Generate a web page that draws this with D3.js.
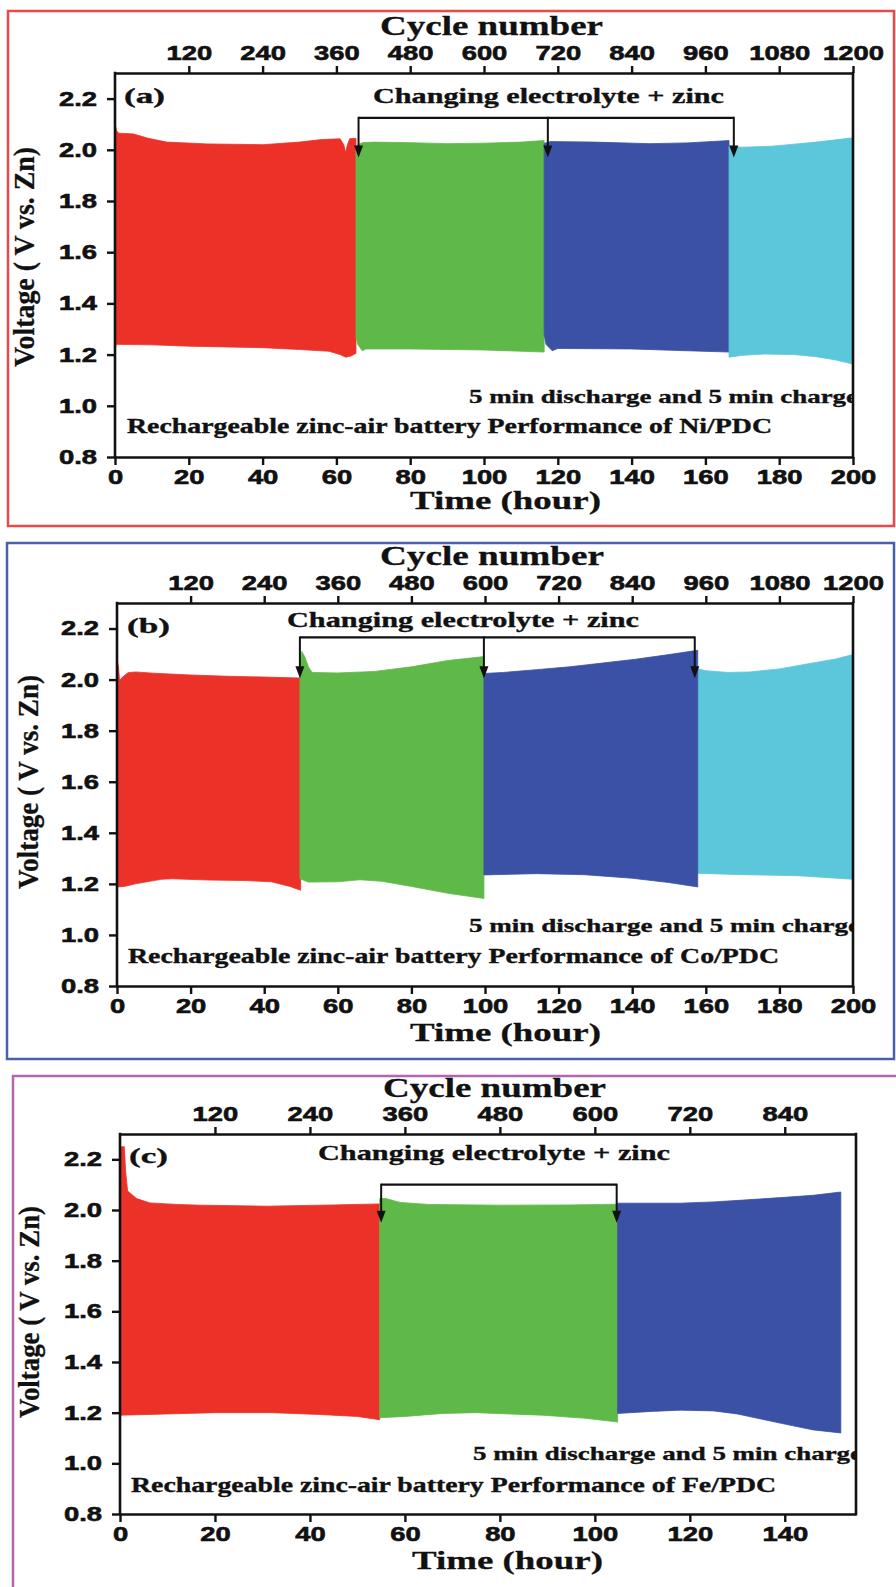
<!DOCTYPE html>
<html><head><meta charset="utf-8">
<script src="https://cdn.jsdelivr.net/npm/d3@7/dist/d3.min.js"></script>
<style>html,body{margin:0;padding:0;background:#fff}svg{display:block}</style>
</head><body>
<svg id="fig" width="896" height="1587"></svg>
<script>
// ===================== DATA =====================
const voltTicks    = [0.8, 1.0, 1.2, 1.4, 1.6, 1.8, 2.0, 2.2];
const timeTicksAB  = [0, 20, 40, 60, 80, 100, 120, 140, 160, 180, 200];
const timeTicksC   = [0, 20, 40, 60, 80, 100, 120, 140];
const cycleTicksAB = [120, 240, 360, 480, 600, 720, 840, 960, 1080, 1200];
const cycleTicksC  = [120, 240, 360, 480, 600, 720, 840];
const cyclesPerHour = 6; // 5 min discharge + 5 min charge

// envelopes: [time (h), voltage (V)]; Hi = charge (upper), Lo = discharge (lower)
// (a) Ni/PDC
const niRedHi   = [[0,2.104],[0.4,2.075],[1,2.065],[5,2.062],[9,2.045],[14,2.03],[25,2.023],[40,2.02],[50,2.03],[56,2.04],[61,2.043],[62,2.02],[62.5,1.99],[63,2.02],[63.6,2.043],[65.3,2.045]];
const niRedLo   = [[0,1.21],[0.3,1.24],[10,1.238],[20,1.233],[30,1.23],[40,1.227],[50,1.22],[58,1.213],[61,1.2],[62.5,1.19],[64,1.195],[65.3,1.205]];
const niGreenHi = [[65.3,2.015],[67,2.028],[70,2.03],[80,2.028],[90,2.024],[100,2.026],[110,2.03],[116.3,2.036]];
const niGreenLo = [[65.3,1.27],[65.8,1.24],[67,1.215],[68,1.222],[80,1.222],[100,1.218],[116.3,1.21]];
const niBlueHi  = [[116.3,2.025],[118,2.032],[130,2.03],[145,2.024],[155,2.027],[166.4,2.036]];
const niBlueLo  = [[116.3,1.28],[116.8,1.24],[118.5,1.215],[120,1.224],[140,1.222],[155,1.215],[166.4,1.21]];
const niCyanHi  = [[166.4,2.015],[170,2.01],[178,2.014],[184,2.022],[190,2.03],[196,2.04],[200,2.047]];
const niCyanLo  = [[166.4,1.19],[170,1.197],[176,1.202],[184,1.2],[190,1.192],[195,1.18],[200,1.163]];
const niArrowT  = [66, 117.3, 167.7];
const niBracketV = [2.125, 1.97]; // bracket level, arrow tip level

// (b) Co/PDC
const coRedHi   = [[0,2.078],[0.4,2.05],[0.7,1.996],[1.5,2.01],[3,2.027],[5,2.03],[10,2.025],[20,2.018],[30,2.013],[40,2.01],[49.9,2.006]];
const coRedLo   = [[0,1.188],[2,1.19],[5,1.2],[12,1.218],[15,1.22],[25,1.215],[35,1.213],[42,1.208],[47,1.19],[49.9,1.175]];
const coGreenHi = [[49.7,2.03],[50.2,2.11],[51,2.09],[52,2.05],[53,2.028],[60,2.026],[70,2.032],[80,2.05],[90,2.075],[99.7,2.09]];
const coGreenLo = [[49.7,1.22],[52,1.207],[60,1.208],[66,1.216],[72,1.21],[80,1.19],[90,1.163],[99.7,1.143]];
const coCyanHi  = [[157,2.045],[160,2.035],[166,2.028],[172,2.03],[180,2.042],[189,2.065],[195,2.08],[200,2.098]];
const coCyanLo  = [[157,1.242],[170,1.236],[185,1.232],[200,1.218]];
const coBlueHi  = [[99.7,2.024],[105,2.028],[114,2.039],[123,2.05],[132,2.065],[141,2.08],[150,2.098],[157.8,2.115]];
const coBlueLo  = [[99.7,1.235],[114,1.24],[127,1.236],[140,1.222],[150,1.205],[157.8,1.188]];
const coArrowT  = [49.7, 99.7, 157];
const coBracketV = [2.165, 2.005];

// (c) Fe/PDC
const feRedHi   = [[0,2.24],[0.3,2.25],[0.9,2.25],[1.2,2.15],[1.6,2.075],[3.5,2.045],[6.3,2.028],[12,2.022],[17,2.019],[31,2.015],[45,2.02],[54.7,2.024]];
const feRedLo   = [[0,1.19],[10,1.195],[20,1.2],[32,1.2],[42,1.193],[50,1.185],[54.7,1.172]];
const feGreenHi = [[54.7,2.045],[56,2.045],[59,2.03],[65,2.022],[80,2.019],[95,2.02],[104.8,2.023]];
const feGreenLo = [[54.7,1.18],[60,1.185],[68,1.197],[75,1.2],[89,1.19],[98,1.178],[104.8,1.163]];
const feBlueHi  = [[104.8,2.027],[118,2.027],[125,2.032],[132,2.04],[140,2.05],[146,2.058],[151.8,2.071]];
const feBlueLo  = [[104.8,1.197],[112,1.205],[118,1.21],[125,1.207],[130,1.195],[135,1.175],[140,1.155],[146,1.132],[151.8,1.12]];
const feArrowT  = [55, 104.6];
const feBracketV = [2.10, 1.95];

const segColors = {red:'#ec3128', green:'#5fb948', blue:'#3a51a5', cyan:'#5cc6da'};

// ===================== LAYOUT =====================
const panels = [
  {box:[8,11,894,526], stroke:'#e8494b', plot:[115,73,853,457], tMax:200, tTicks:timeTicksAB, cTicks:cycleTicksAB,
   segs:[[niRedHi,niRedLo,'red'],[niGreenHi,niGreenLo,'green'],[niBlueHi,niBlueLo,'blue'],[niCyanHi,niCyanLo,'cyan']],
   arrowT:niArrowT, bracketV:niBracketV,
   tag:['(a)',124,165,103], chg:[373,724,103], cyc:[380,603,35], time:[410,601,509], five:[469,858,403],
   rech:['Rechargeable zinc-air battery Performance of Ni/PDC',127,772,433], ylab:[34,257,220]},
  {box:[7,543,894,1059], stroke:'#4a60ad', plot:[117,603,853,986], tMax:200, tTicks:timeTicksAB, cTicks:cycleTicksAB,
   segs:[[coRedHi,coRedLo,'red'],[coGreenHi,coGreenLo,'green'],[coCyanHi,coCyanLo,'cyan'],[coBlueHi,coBlueLo,'blue']],
   arrowT:coArrowT, bracketV:coBracketV,
   tag:['(b)',127,170,633], chg:[287,639,627], cyc:[380,604,565], time:[410,601,1041], five:[469,860,932],
   rech:['Rechargeable zinc-air battery Performance of Co/PDC',128,779,963], ylab:[38,782,214]},
  {box:[13,1076,910,1600], stroke:'#b266b0', plot:[120,1134,856,1514], tMax:155, tTicks:timeTicksC, cTicks:cycleTicksC,
   segs:[[feRedHi,feRedLo,'red'],[feGreenHi,feGreenLo,'green'],[feBlueHi,feBlueLo,'blue']],
   arrowT:feArrowT, bracketV:feBracketV,
   tag:['(c)',129,168,1163], chg:[318,670,1160], cyc:[383,606,1097], time:[412,603,1569], five:[473,862,1460],
   rech:['Rechargeable zinc-air battery Performance of Fe/PDC',131,776,1492], ylab:[39,1312,212]}
];

const svg = d3.select('#fig');
const ink = '#111';
const serif = '"Liberation Serif","Times New Roman",serif';
const sans = '"Liberation Sans",Arial,sans-serif';
const tickFont = 20, tickSX = 1.37;

function stretchText(g, str, x0, x1, yb, size, sw) {
  return g.append('text').attr('x', x0).attr('y', yb)
    .attr('textLength', x1 - x0).attr('lengthAdjust', 'spacingAndGlyphs')
    .style('font-family', serif).style('font-weight', 'bold')
    .style('font-size', size + 'px').attr('fill', ink)
    .attr('stroke', ink).attr('stroke-width', sw == null ? 0.35 : sw).attr('stroke-linejoin', 'round')
    .text(str);
}

panels.forEach((p, i) => {
  const [px0, py0, px1, py1] = p.plot;
  const g = svg.append('g');
  // panel border
  g.append('rect').attr('x', p.box[0]).attr('y', p.box[1])
    .attr('width', p.box[2] - p.box[0]).attr('height', p.box[3] - p.box[1])
    .attr('fill', 'none').attr('stroke', p.stroke).attr('stroke-width', 2.5);

  const x  = d3.scaleLinear().domain([0, p.tMax]).range([px0, px1]);
  const xc = d3.scaleLinear().domain([0, p.tMax * cyclesPerHour]).range([px0, px1]);
  const y  = d3.scaleLinear().domain([0.8, 2.3]).range([py1, py0]);

  // filled charge/discharge bands
  const line = d3.line().x(d => x(d[0])).y(d => y(d[1]));
  p.segs.forEach(([hi, lo, col]) => {
    const pts = hi.concat(lo.slice().reverse());
    g.append('path').attr('d', line(pts) + 'Z')
      .attr('fill', segColors[col]).attr('stroke', segColors[col]).attr('stroke-width', 0.8);
  });

  // clip for text inside plot
  const clipId = 'clip' + i;
  svg.append('clipPath').attr('id', clipId).append('rect')
    .attr('x', px0).attr('y', py0).attr('width', px1 - px0).attr('height', py1 - py0);

  // annotations
  const ann = g.append('g');
  const by = y(p.bracketV[0]), ty = y(p.bracketV[1]);
  const ax = p.arrowT.map(t => x(t));
  ann.append('line').attr('x1', ax[0]).attr('x2', ax[ax.length - 1]).attr('y1', by).attr('y2', by)
    .attr('stroke', ink).attr('stroke-width', 2.2);
  ax.forEach(xx => {
    ann.append('line').attr('x1', xx).attr('x2', xx).attr('y1', by - 1).attr('y2', ty - 9)
      .attr('stroke', ink).attr('stroke-width', 2);
    ann.append('path').attr('d', `M${xx - 4.5},${ty - 12}L${xx + 4.5},${ty - 12}L${xx},${ty}Z`).attr('fill', ink);
  });

  stretchText(g, p.tag[0], p.tag[1], p.tag[2], p.tag[3], 22);
  stretchText(g, 'Changing electrolyte + zinc', p.chg[0], p.chg[1], p.chg[2], 21);
  stretchText(g, 'Cycle number', p.cyc[0], p.cyc[1], p.cyc[2], 27, 0.3);
  stretchText(g, 'Time (hour)', p.time[0], p.time[1], p.time[2], 25, 0.3);
  stretchText(g, '5 min discharge and 5 min charge', p.five[0], p.five[1], p.five[2], 19)
    .attr('clip-path', `url(#${clipId})`);
  stretchText(g, p.rech[0], p.rech[1], p.rech[2], p.rech[3], 20);

  // y label (rotated)
  g.append('text')
    .attr('transform', `translate(${p.ylab[0]},${p.ylab[1]}) rotate(-90)`)
    .attr('text-anchor', 'middle').attr('textLength', p.ylab[2]).attr('lengthAdjust', 'spacingAndGlyphs')
    .style('font-family', serif).style('font-weight', 'bold').style('font-size', '29px')
    .attr('fill', ink).attr('stroke', ink).attr('stroke-width', 0.3)
    .text('Voltage ( V vs. Zn)');

  // axes
  const styleAxis = sel => {
    sel.selectAll('path.domain').attr('stroke', ink).attr('stroke-width', 2.6);
    sel.selectAll('.tick line').attr('stroke', ink).attr('stroke-width', 2.4);
    sel.selectAll('.tick text').attr('fill', ink).attr('stroke', ink).attr('stroke-width', 0.6)
      .style('font-family', sans).style('font-weight', 'bold').style('font-size', tickFont + 'px');
  };
  const gb = g.append('g').attr('transform', `translate(0,${py1})`)
    .call(d3.axisBottom(x).tickValues(p.tTicks).tickFormat(d3.format('d')).tickSize(8).tickPadding(5).tickSizeOuter(0));
  styleAxis(gb); gb.selectAll('.tick text').attr('transform', `scale(${tickSX},1)`);

  const gt = g.append('g').attr('transform', `translate(0,${py0})`)
    .call(d3.axisTop(xc).tickValues(p.cTicks).tickFormat(d3.format('d')).tickSize(7).tickPadding(6).tickSizeOuter(0));
  styleAxis(gt); gt.selectAll('.tick text').attr('transform', `scale(${tickSX},1)`);

  const gl = g.append('g').attr('transform', `translate(${px0},0)`)
    .call(d3.axisLeft(y).tickValues(voltTicks).tickFormat(d3.format('.1f')).tickSize(8).tickPadding(0).tickSizeOuter(0));
  styleAxis(gl);
  gl.selectAll('.tick text').attr('x', -18 / tickSX).attr('transform', `scale(${tickSX},1)`);

  const gr = g.append('g').attr('transform', `translate(${px1},0)`)
    .call(d3.axisRight(y).tickValues([]).tickSizeOuter(0));
  styleAxis(gr);
  // extend vertical axis lines a little past the corners
  gl.select('path.domain').attr('d', `M0,${py0 - 1.3}V${py1 + 1.3}`);
  gr.select('path.domain').attr('d', `M0,${py0 - 1.3}V${py1 + 1.3}`);
});
</script>
</body></html>
